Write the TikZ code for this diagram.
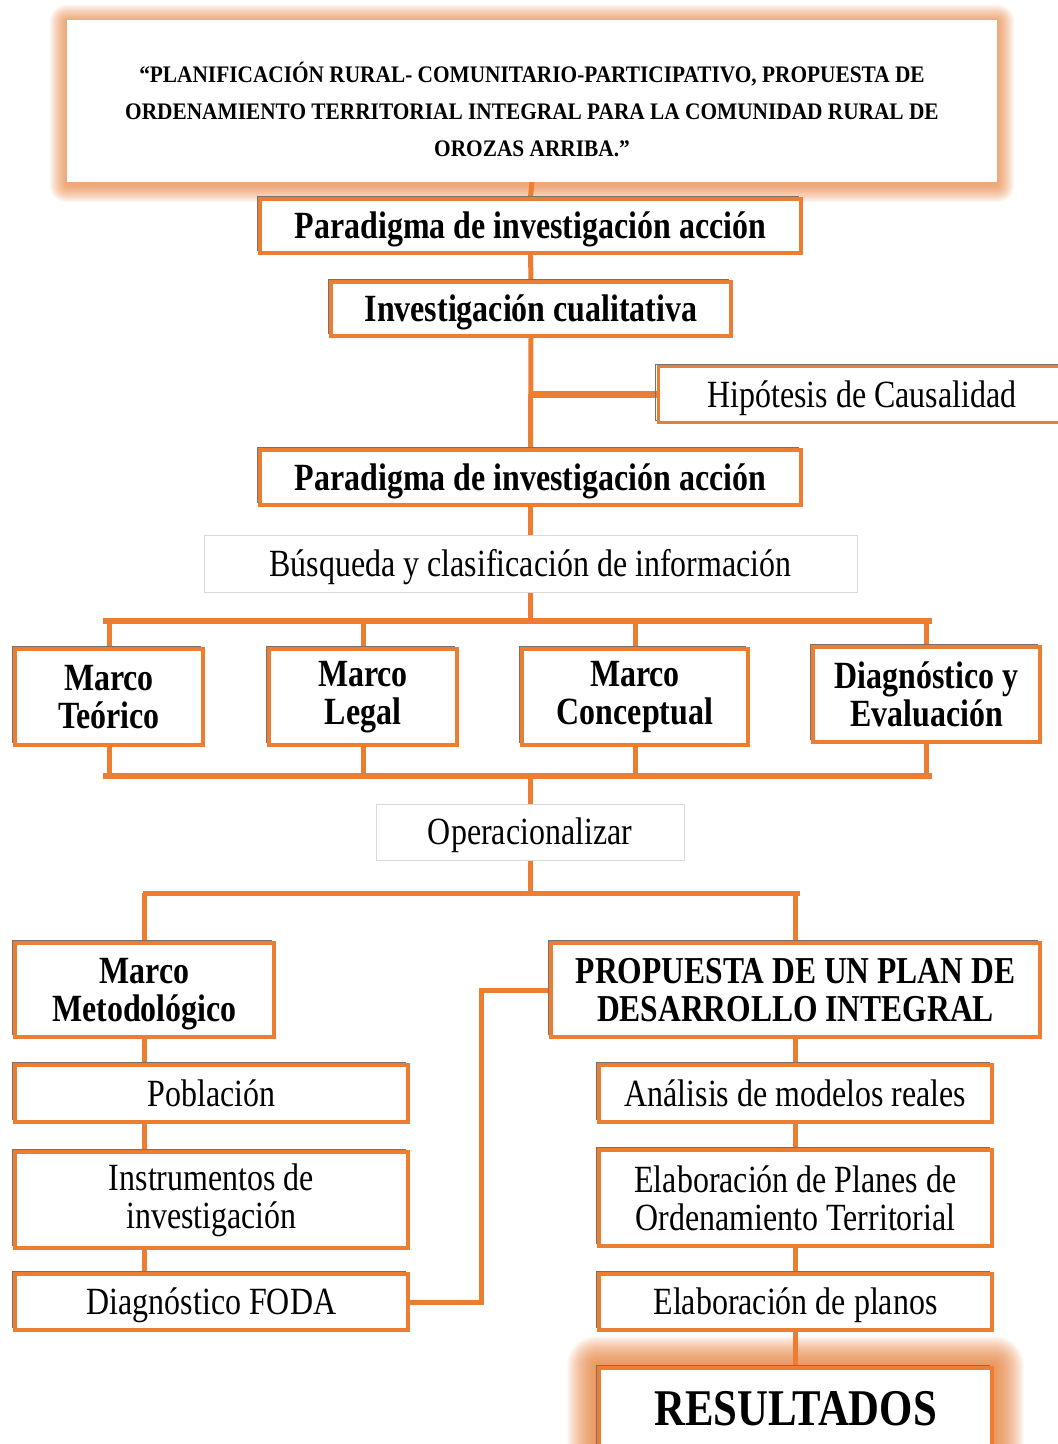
\documentclass[tikz,border=0pt]{standalone}
\usepackage{fontspec}
\setmainfont{Liberation Serif}
\newfontfamily\cond[FakeStretch=0.83]{Liberation Serif}
\newfontfamily\condt[FakeStretch=0.9]{Liberation Serif}
\usetikzlibrary{calc}
\definecolor{org}{HTML}{ED7D31}
\pgfdeclarelayer{bg}
\pgfdeclarelayer{bgw}
\pgfsetlayers{bgw,bg,main}
\tikzset{
  obox/.style={draw=org, line width=4pt, fill=white, align=center, inner sep=0pt,
    preaction={draw=black!55, line width=1.2pt, transform canvas={shift={(-2.4pt,2.4pt)}}}},
  gbox/.style={draw=black!15, line width=0.8pt, fill=white, align=center, inner sep=0pt},
  one/.style={text height=25pt, text depth=0pt},
  bigb/.style={one, font=\cond\bfseries\fontsize{38.5}{40}\selectfont},
  midb/.style={font=\cond\bfseries\fontsize{38.5}{38}\selectfont},
  capb/.style={font=\cond\bfseries\fontsize{38}{38}\selectfont},
  reg/.style={font=\cond\fontsize{38.5}{38}\selectfont},
  reg1/.style={reg, one},
  conn/.style={draw=org, line width=5pt},
}
\begin{document}
\begin{tikzpicture}[x=1pt,y=-1pt]
\clip (0,0) rectangle (1058,1444);
\begin{pgfonlayer}{bgw}
\fill[white] (0,0) rectangle (1058,1444);
\end{pgfonlayer}

% nodes
\node[fill=white, align=center, inner sep=0pt, minimum width=930pt, minimum height=162pt,
      font=\condt\bfseries\fontsize{23.7}{37}\selectfont] (title) at (532,101)
 {\raisebox{-17pt}[0pt][0pt]{\begin{tabular}{@{}c@{}}“PLANIFICACIÓN RURAL- COMUNITARIO-PARTICIPATIVO, PROPUESTA DE\\ORDENAMIENTO TERRITORIAL INTEGRAL PARA LA COMUNIDAD RURAL DE\\OROZAS ARRIBA.”\end{tabular}}};
\node[obox, bigb, minimum width=541pt, minimum height=54pt] (p1) at (530.5,226) {Paradigma de investigación acción};
\node[obox, bigb, minimum width=400pt, minimum height=54pt] (ic) at (531,309) {Investigación cualitativa};
\node[obox, reg1, line width=3pt, minimum width=408pt, minimum height=56pt] (hip) at (862,394.5) {Hipótesis de Causalidad};
\node[obox, bigb, minimum width=541pt, minimum height=55pt] (p2) at (530.5,477.5) {Paradigma de investigación acción};
\node[gbox, reg1, minimum width=653pt, minimum height=57pt] (bq) at (530.5,563.5) {Búsqueda y clasificación de información};

\node[obox, midb, minimum width=188pt, minimum height=96pt] (mt) at (109,697) {Marco\\Teórico};
\node[obox, midb, minimum width=188pt, minimum height=96pt] (ml) at (363,697) {Marco\\Legal};
\node[obox, midb, minimum width=226pt, minimum height=96pt] (mc) at (635,697) {Marco\\Conceptual};
\node[obox, midb, minimum width=227pt, minimum height=95pt] (de) at (926.5,694) {Diagnóstico y\\Evaluación};

\node[gbox, reg1, minimum width=308pt, minimum height=56pt] (op) at (530,832) {Operacionalizar};

\node[obox, midb, text depth=0pt, minimum width=259pt, minimum height=94pt] (mm) at (144.5,990) {Marco\\Metodológico};
\node[obox, capb, minimum width=489pt, minimum height=94pt] (pp) at (795.5,990) {PROPUESTA DE UN PLAN DE\\DESARROLLO INTEGRAL};

\node[obox, reg1, minimum width=393pt, minimum height=57pt] (pob) at (211.5,1093.5) {Población};
\node[obox, reg, minimum width=393pt, minimum height=96pt] (ins) at (211.5,1200) {Instrumentos de\\investigación};
\node[obox, reg1, minimum width=393pt, minimum height=56pt] (foda) at (211.5,1302) {Diagnóstico FODA};

\node[obox, reg1, minimum width=393pt, minimum height=57pt] (an) at (795.5,1093.5) {Análisis de modelos reales};
\node[obox, reg, minimum width=393pt, minimum height=96pt] (ep) at (795.5,1198) {Elaboración de Planes de\\Ordenamiento Territorial};
\node[obox, reg1, minimum width=393pt, minimum height=56pt] (epl) at (795.5,1302) {Elaboración de planos};
\node[obox, font=\cond\bfseries\fontsize{51.5}{50}\selectfont, text height=34pt, text depth=0pt, minimum width=393pt, minimum height=80pt] (res) at (795.5,1408) {RESULTADOS};

\coordinate (tbl) at (106,621);
\coordinate (tbr) at (929,621);
\coordinate (bbl) at (106,776);
\coordinate (bbr) at (929,776);
\coordinate (b2l) at (145,893);
\coordinate (b2r) at (797,893);
\coordinate (fx) at (481,990);

\begin{pgfonlayer}{bg}
  % glows
  \foreach \i in {1,...,17}
    \fill[org, opacity=0.055, rounded corners=\i pt]
      ([shift={(-\i pt,-\i pt-3pt)}]title.south west) rectangle ([shift={(\i pt,\i pt-2pt)}]title.north east);
  \foreach \i in {1,...,30}
    \fill[org, opacity=0.045, rounded corners=\i pt]
      ([shift={(-\i pt,-\i pt)}]res.south west) rectangle ([shift={(\i pt,\i pt)}]res.north east);
  % connectors
  \draw[conn] (title.south) -- (p1.north);
  \draw[conn] (p1.south) -- (ic.north);
  \draw[conn] (ic.south) -- (p2.north);
  \draw[conn, line width=7.5pt] (hip.west) -- (hip.west -| ic.south);
  \draw[conn] (p2.south) -- (bq.north);
  \draw[conn, line width=6pt, line cap=rect] (tbl) -- (tbr);
  \draw[conn] (bq.south) -- (bq.south |- tbl);
  \draw[conn] (mt.north) -- (mt.north |- tbl);
  \draw[conn] (ml.north) -- (ml.north |- tbl);
  \draw[conn] (mc.north) -- (mc.north |- tbl);
  \draw[conn] (de.north) -- (de.north |- tbl);
  \draw[conn, line width=6pt, line cap=rect] (bbl) -- (bbr);
  \draw[conn] (mt.south) -- (mt.south |- bbl);
  \draw[conn] (ml.south) -- (ml.south |- bbl);
  \draw[conn] (mc.south) -- (mc.south |- bbl);
  \draw[conn] (de.south) -- (de.south |- bbl);
  \draw[conn] (op.north) -- (op.north |- bbl);
  \draw[conn] (op.south) -- (op.south |- b2l);
  \draw[conn, line cap=rect] (b2l) -- (b2r);
  \draw[conn] (mm.north) -- (mm.north |- b2l);
  \draw[conn] (pp.north) -- (pp.north |- b2r);
  \draw[conn] (mm.south) -- (mm.south |- pob.north);
  \draw[conn] (mm.south |- pob.south) -- (mm.south |- ins.north);
  \draw[conn] (mm.south |- ins.south) -- (mm.south |- foda.north);
  \draw[conn] (pp.south) -- (an.north);
  \draw[conn] (an.south) -- (ep.north);
  \draw[conn] (ep.south) -- (epl.north);
  \draw[conn] (epl.south) -- (res.north);
  \draw[conn] (foda.east) -| (fx) -- (pp.west);
\end{pgfonlayer}
\end{tikzpicture}
\end{document}
